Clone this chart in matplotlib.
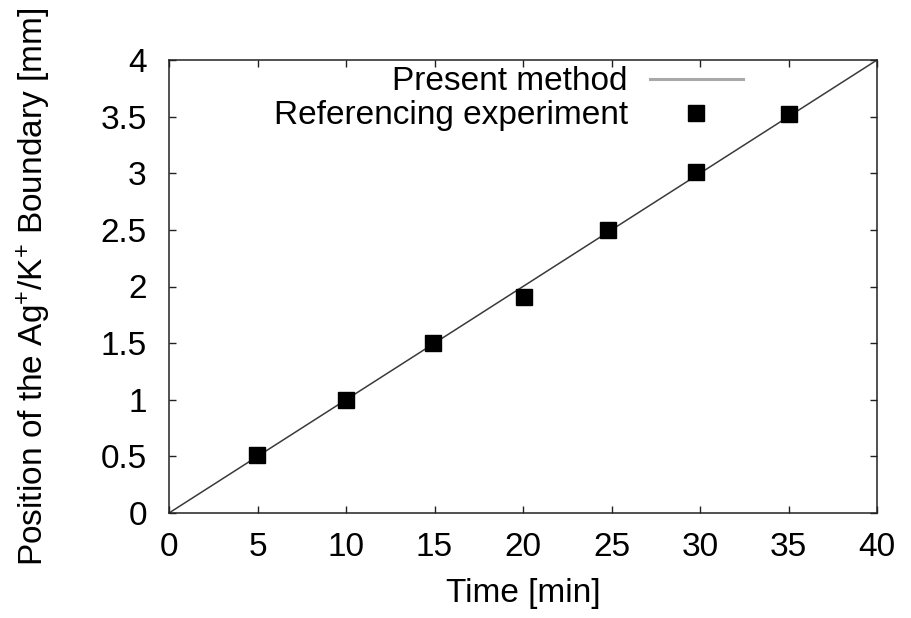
import matplotlib
matplotlib.use("Agg")
import matplotlib.pyplot as plt
from matplotlib.lines import Line2D
from matplotlib.ticker import FuncFormatter

# Simulated boundary position (linear model) and measured points
model_time = [0, 40]
model_pos = [0.0, 4.0]
exp_time = [4.95, 10.0, 14.9, 20.05, 24.8, 29.8, 35.05]
exp_pos = [0.51, 1.0, 1.50, 1.91, 2.50, 3.01, 3.52]

x_ticks = [0, 5, 10, 15, 20, 25, 30, 35, 40]
y_ticks = [0, 0.5, 1, 1.5, 2, 2.5, 3, 3.5, 4]

FS = 24

plt.rcParams["font.family"] = ["Liberation Sans", "DejaVu Sans"]
plt.rcParams["mathtext.fontset"] = "custom"
plt.rcParams["mathtext.rm"] = "Liberation Sans"
plt.rcParams["mathtext.it"] = "Liberation Sans"

fig = plt.figure(figsize=(9.12, 6.18), dpi=100)
ax = fig.add_axes([169 / 912, 1 - 513 / 618, 708 / 912, 453 / 618])

ax.plot(model_time, model_pos, color="#3a3a3a", lw=1.1, zorder=2)
ax.plot(exp_time, exp_pos, ls="none", marker="s", ms=12, color="black", zorder=3)

ax.set_xlim(0, 40)
ax.set_ylim(0, 4)
ax.set_xticks(x_ticks)
ax.set_yticks(y_ticks)
ax.yaxis.set_major_formatter(FuncFormatter(lambda v, p: f"{v:g}"))
ax.tick_params(direction="in", length=5, width=1, top=True, right=True,
               labelsize=FS, color="#222222")
ax.tick_params(axis="x", pad=14)
ax.tick_params(axis="y", pad=16)
for s in ax.spines.values():
    s.set_linewidth(1.1)
    s.set_color("#222222")

ax.set_xlabel("Time [min]", fontsize=FS)
ax.set_ylabel(r"Position of the Ag$^{+}$/K$^{+}$ Boundary [mm]", fontsize=FS)
ax.xaxis.set_label_coords(0.5, -0.1435)
ax.yaxis.set_label_coords(-0.1638, 0.5)

# Two stacked legends so that labels are right-aligned next to their keys
line_handle = Line2D([], [], color="#a8a8a8", lw=2.2)
mark_handle = Line2D([], [], ls="none", marker="s", ms=12, color="black")
common = dict(frameon=False, markerfirst=False, fontsize=FS, borderpad=0,
              borderaxespad=0, handlelength=2.8, handletextpad=0.66,
              loc="center right")
leg1 = ax.legend([line_handle], ["Present method"],
                 bbox_to_anchor=(0.8107, 0.952), **common)
ax.add_artist(leg1)
ax.legend([mark_handle], ["Referencing experiment"],
          bbox_to_anchor=(0.8107, 0.8764), **common)

fig.savefig("out.png", dpi=100)
